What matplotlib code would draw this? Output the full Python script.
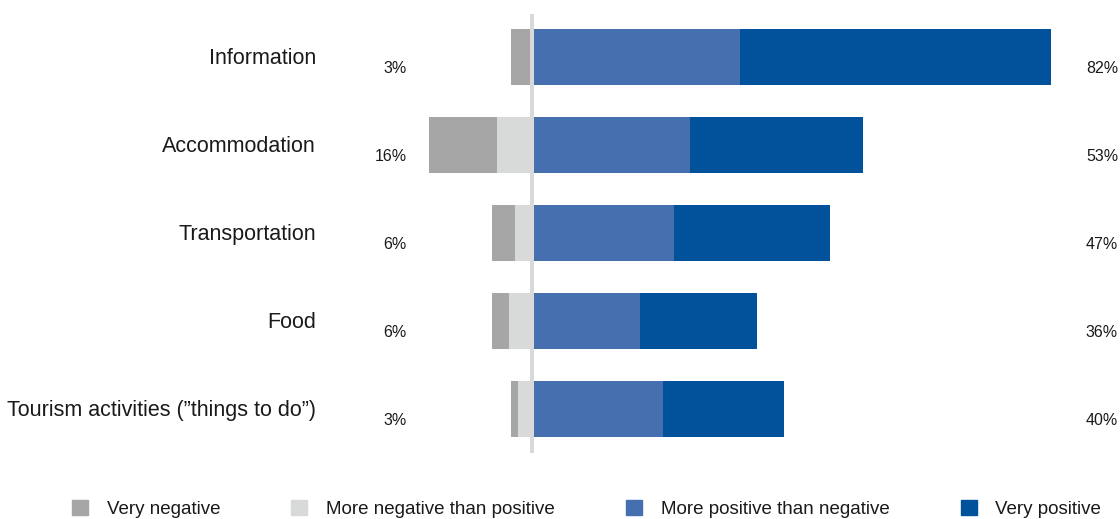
import matplotlib
matplotlib.use("Agg")
import matplotlib.pyplot as plt
import matplotlib.patches as mpatches
import numpy as np

plt.rcParams["font.family"] = ["Liberation Sans", "DejaVu Sans"]

# survey shares (%) per category
categories = ["Information", "Accommodation", "Transportation", "Food",
              "Tourism activities (\u201dthings to do\u201d)"]
very_negative = [3.4, 10.8, 3.6, 2.7, 1.1]
more_negative = [0.0, 5.5, 2.7, 3.6, 2.3]
more_positive = [33.0, 25.1, 22.5, 17.1, 20.8]
very_positive = [49.3, 27.5, 24.8, 18.6, 19.2]

series_names = ["Very negative", "More negative than positive",
                "More positive than negative", "Very positive"]

C_VNEG = "#A6A6A6"
C_MNEG = "#D8DADA"
C_MPOS = "#456FAF"
C_VPOS = "#01519B"

fig = plt.figure(figsize=(11.2, 5.19), dpi=100)
ax = fig.add_axes([0, 0, 1, 1])

y = np.arange(len(categories))
vneg = np.array(very_negative)
mneg = np.array(more_negative)
mpos = np.array(more_positive)
vpos = np.array(very_positive)
bar_h = 0.636

# negatives stack leftwards from zero, positives rightwards
ax.barh(y, -mneg, bar_h, color=C_MNEG, lw=0)
ax.barh(y, -vneg, bar_h, left=-mneg, color=C_VNEG, lw=0)
ax.barh(y, mpos, bar_h, color=C_MPOS, lw=0)
ax.barh(y, vpos, bar_h, left=mpos, color=C_VPOS, lw=0)

# zero divider
ax.vlines(0, -0.49, 4.5, color="#D9D9D9", lw=2.9, zorder=5)

neg_tot = vneg + mneg
pos_tot = mpos + vpos
for i, cat in enumerate(categories):
    ax.text(-34.3, i + 0.02, cat, ha="right", va="center", fontsize=15.5,
            color="#1a1a1a")
    ax.text(-19.84, i + 0.135, f"{neg_tot[i]:.0f}%", ha="right", va="center",
            fontsize=11.5, color="#1a1a1a")
    ax.text(93.02, i + 0.125, f"{pos_tot[i]:.0f}%", ha="right", va="center",
            fontsize=11.5, color="#1a1a1a")

ax.set_xlim(-84.44, 93.33)
ax.set_ylim(5.25, -0.648)
ax.axis("off")

handles = [mpatches.Patch(color=c, label=n)
           for c, n in zip([C_VNEG, C_MNEG, C_MPOS, C_VPOS], series_names)]
fig.legend(handles=handles, loc="center", bbox_to_anchor=(0.5237, 0.02),
           ncol=4, frameon=False, fontsize=13.5, handlelength=0.85,
           handleheight=0.85, handletextpad=1.0, columnspacing=3.8,
           labelcolor="#1a1a1a")

fig.savefig("out.png", dpi=100)
